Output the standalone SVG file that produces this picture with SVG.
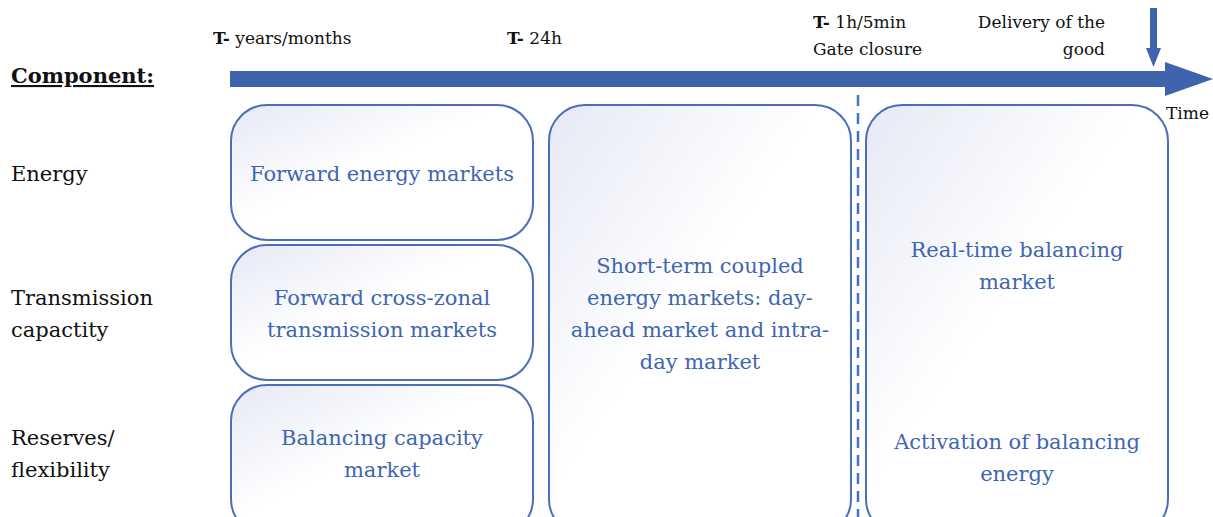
<svg xmlns="http://www.w3.org/2000/svg" width="1213" height="517" viewBox="0 0 1213 517">
<style>
.box{fill:url(#g);stroke:#4a6fb8;stroke-width:2}
.bt{font-family:"DejaVu Serif",serif;font-size:21px;fill:#3f66b0;text-anchor:middle}
.lab{font-family:"DejaVu Serif",serif;font-size:21px;fill:#111}
.top{font-family:"DejaVu Serif",serif;font-size:17px;fill:#111}
.arrow{fill:#3f63ad}
</style>
<defs>
<linearGradient id="g" x1="0" y1="0" x2="1" y2="1">
<stop offset="0" stop-color="#e6e9f5"/>
<stop offset="0.45" stop-color="#ffffff"/>
<stop offset="1" stop-color="#ffffff"/>
</linearGradient>
</defs>
<rect width="1213" height="517" fill="#ffffff"/>
<g id="timeline">
<polygon class="arrow" points="230,71 1165,71 1165,62 1213,79 1165,96 1165,87 230,87"/>
<polygon class="arrow" points="1150,8 1157,8 1157,48 1161,48 1153.5,67 1146,48 1150,48"/>
<text class="top" x="1166" y="119">Time</text>
</g>
<g id="headers">
<text class="top" x="213" y="44"><tspan font-weight="bold">T-</tspan> years/months</text>
<text class="top" x="507" y="44"><tspan font-weight="bold">T-</tspan> 24h</text>
<text class="top" x="813" y="28"><tspan font-weight="bold">T-</tspan> 1h/5min</text>
<text class="top" x="813" y="55">Gate closure</text>
<text class="top" x="1105" y="28" text-anchor="end">Delivery of the</text>
<text class="top" x="1105" y="55" text-anchor="end">good</text>
</g>
<g id="labels">
<text class="lab" x="11" y="83" font-weight="bold" text-decoration="underline">Component:</text>
<text class="lab" x="11" y="181">Energy</text>
<text class="lab" x="11" y="305">Transmission</text>
<text class="lab" x="11" y="337">capactity</text>
<text class="lab" x="11" y="445">Reserves/</text>
<text class="lab" x="11" y="477">flexibility</text>
</g>
<g id="connectors">
<line x1="858" y1="95" x2="858" y2="517" stroke="#4472c4" stroke-width="2.5" stroke-dasharray="11,7"/>
</g>
<g id="forward-energy">
<rect class="box" x="231" y="105" width="302" height="135" rx="36"/>
<text class="bt" x="382" y="181">Forward energy markets</text>
</g>
<g id="forward-transmission">
<rect class="box" x="231" y="245" width="302" height="135" rx="36"/>
<text class="bt" x="382" y="305">Forward cross-zonal</text>
<text class="bt" x="382" y="337">transmission markets</text>
</g>
<g id="balancing-capacity">
<rect class="box" x="231" y="385" width="302" height="150" rx="36"/>
<text class="bt" x="382" y="445">Balancing capacity</text>
<text class="bt" x="382" y="477">market</text>
</g>
<g id="short-term">
<rect class="box" x="549" y="105" width="302" height="430" rx="36"/>
<text class="bt" x="700" y="273">Short-term coupled</text>
<text class="bt" x="700" y="305">energy markets: day-</text>
<text class="bt" x="700" y="337">ahead market and intra-</text>
<text class="bt" x="700" y="369">day market</text>
</g>
<g id="real-time">
<rect class="box" x="866" y="105" width="302" height="430" rx="36"/>
<text class="bt" x="1017" y="257">Real-time balancing</text>
<text class="bt" x="1017" y="289">market</text>
<text class="bt" x="1017" y="449">Activation of balancing</text>
<text class="bt" x="1017" y="481">energy</text>
</g>
</svg>
